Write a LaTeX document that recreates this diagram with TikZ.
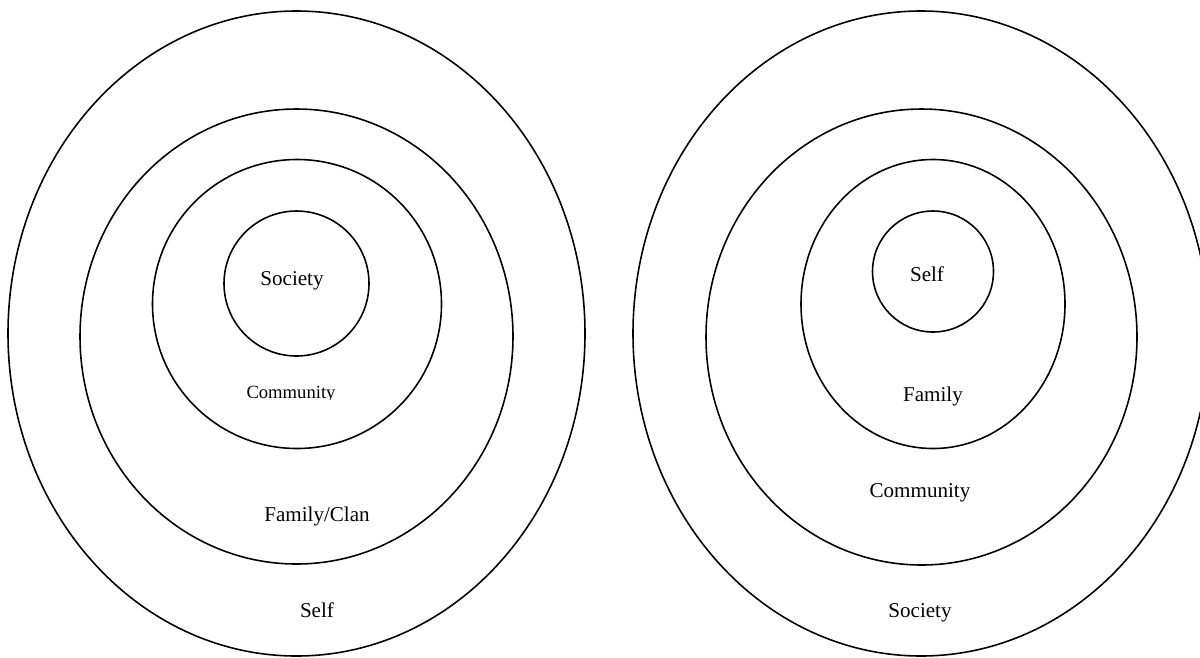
\documentclass[tikz,border=0pt]{standalone}
\usepackage{fontspec}
\setmainfont{Liberation Serif}

\tikzset{
  ring/.style={line width=0.9pt},
  tag/.style={anchor=base, inner sep=0pt, font=\fontsize{12}{14}\selectfont},
}

\begin{document}
\begin{tikzpicture}[x=0.02cm,y=-0.02cm]
    \useasboundingbox (0,0) rectangle (1200,657);
    \clip (0,0) rectangle (1200,657);
    % society-centred rings
    \draw[ring] (296.5,333.5) ellipse [x radius=288.5, y radius=322.5];
    \draw[ring] (296.5,336.5) ellipse [x radius=216.5, y radius=227.5];
    \draw[ring] (297,304) ellipse [x radius=144.5, y radius=144.5];
    \draw[ring] (296.5,283.5) circle [radius=72.5];
    \node[tag] (lsoc) at (292,285) {Society};
    \begin{scope}
        \clip (230,370) rectangle (360,399.5); % text box cut at the baseline
        \node[tag, font=\fontsize{10.6}{12}\selectfont] (lcom) at (291,398) {Community};
    \end{scope}
    \node[tag] (lfam) at (317,521) {Family/Clan};
    \node[tag] (lself) at (317,617) {Self};
    % self-centred rings
    \draw[ring] (921,333.5) ellipse [x radius=288, y radius=322.5];
    \draw[ring] (921.5,337) ellipse [x radius=215.5, y radius=228];
    \draw[ring] (933,304) ellipse [x radius=132, y radius=144.5];
    \draw[ring] (933,271.5) circle [radius=60.5];
    \node[tag] (rself) at (927,281) {Self};
    \node[tag] (rfam) at (933,401) {Family};
    \node[tag] (rcom) at (920,497) {Community};
    \node[tag] (rsoc) at (920,617) {Society};
\end{tikzpicture}
\end{document}
